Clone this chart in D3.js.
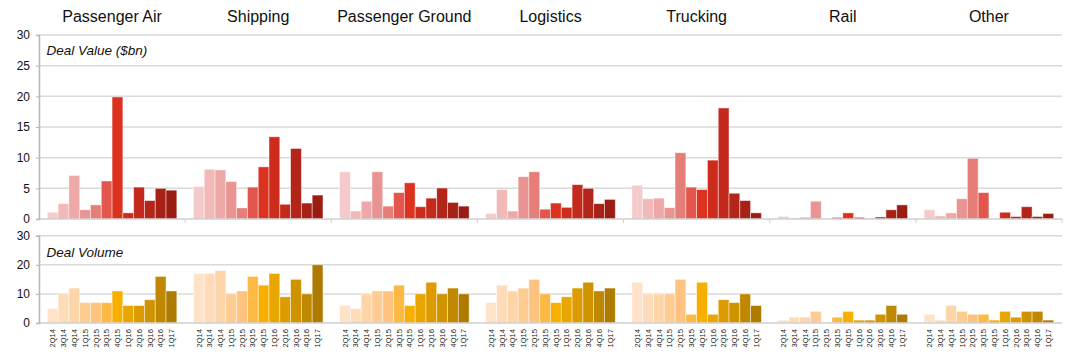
<!DOCTYPE html>
<html><head><meta charset="utf-8">
<script src="https://cdn.jsdelivr.net/npm/d3@7"></script>
<style>body{margin:0;background:#fff}svg{display:block;font-family:Arial,"Liberation Sans",Helvetica,sans-serif}</style>
</head><body><svg id="c" width="1078" height="359"></svg>
<script>
const sectors = ["Passenger Air","Shipping","Passenger Ground","Logistics","Trucking","Rail","Other"];
const quarters = ["2Q14","3Q14","4Q14","1Q15","2Q15","3Q15","4Q15","1Q16","2Q16","3Q16","4Q16","1Q17"];
const dealValue = [
  [1.1,2.5,7.1,1.5,2.3,6.2,19.9,1.0,5.2,3.0,5.0,4.7],
  [5.3,8.1,8.0,6.1,1.8,5.2,8.5,13.4,2.4,11.5,2.6,3.9],
  [7.7,1.3,2.9,7.7,2.1,4.3,5.9,2.0,3.4,5.05,2.7,2.1],
  [0.9,4.8,1.3,6.9,7.7,1.6,2.6,1.9,5.6,5.0,2.5,3.2],
  [5.5,3.3,3.4,1.85,10.8,5.2,4.8,9.6,18.1,4.2,3.0,1.0],
  [0.43,0.16,0.3,2.9,0,0.27,1.0,0.27,0.05,0.33,1.5,2.3],
  [1.5,0.5,1.0,3.3,9.9,4.3,0,1.1,0.4,2.0,0.4,0.9]
];
const dealVolume = [
  [5,10,12,7,7,7,11,6,6,8,16,11],
  [17,17,18,10,11,16,13,17,9,15,10,20],
  [6,5,10,11,11,13,6,10,14,10,12,10],
  [7,13,11,12,15,10,7,9,12,14,11,12],
  [14,10,10,10,15,3,14,3,8,7,10,6],
  [1,2,2,4,0,2,4,1,1,3,6,3],
  [3,1,6,4,3,3,1,4,2,4,4,1]
];
const valueTicks = [0,5,10,15,20,25,30];
const volumeTicks = [0,10,20,30];
const redShades = ["#f4cbca","#f1b9b8","#eda8a7","#e99492","#e57d78","#e2564e","#dc3220","#cd2b1c","#c4291b","#b32519","#a82117","#9a1c12"];
const orangeShades = ["#fee3c8","#fedcb9","#fed5a8","#fecb90","#fec47f","#fdb946","#f7b000","#e9a500","#dd9b00","#cf9300","#c08700","#ae7a00"];

const svg = d3.select("#c");
const left = 39, right = 1062;
const panelX = d3.scaleBand().domain(sectors).range([left, right]).padding(0);
const pw = panelX.bandwidth();

function drawRow(cfg) {
  const y = d3.scaleLinear().domain([0,30]).range([cfg.y0, cfg.y1]);
  const g = svg.append("g");
  // gridlines
  g.selectAll("line.grid").data(cfg.ticks.filter(t=>t>0)).join("line")
    .attr("x1", left).attr("x2", right)
    .attr("y1", d=>y(d)).attr("y2", d=>y(d))
    .attr("stroke", "#dadada").attr("stroke-width", 1.5);
  // bars
  sectors.forEach((s, si) => {
    const x = d3.scaleBand().domain(quarters)
      .range([panelX(s), panelX(s)+pw]).paddingInner(0).paddingOuter(0.77);
    g.append("g").selectAll("rect").data(cfg.data[si]).join("rect")
      .attr("x", (d,i)=>x(quarters[i]))
      .attr("width", x.bandwidth())
      .attr("y", d=>y(d))
      .attr("height", d=>y(0)-y(d))
      .attr("fill", (d,i)=>cfg.colors[i])
      .attr("stroke", "rgba(255,255,255,0.55)")
      .attr("stroke-width", 0.8);
    if (cfg.labels) {
      g.append("g").selectAll("text").data(quarters).join("text")
        .attr("transform", q=>`translate(${x(q)+x.bandwidth()/2},329) rotate(-90)`)
        .attr("text-anchor","end").attr("dy","0.35em")
        .attr("font-size", 7.6).attr("fill","#222").text(q=>q);
    }
  });
  // baseline
  g.append("line").attr("x1", left).attr("x2", right)
    .attr("y1", y(0)).attr("y2", y(0)).attr("stroke", "#cfcfcf").attr("stroke-width", 1.5);
  if (cfg.panelTicks) {
    g.selectAll("line.pt").data(sectors.slice(1).concat(["end"])).join("line")
      .attr("x1", d=> d==="end" ? right : panelX(d)).attr("x2", d=> d==="end" ? right : panelX(d))
      .attr("y1", y(0)).attr("y2", y(0)+4)
      .attr("stroke", "#cfcfcf").attr("stroke-width", 1);
  }
  // left axis
  const ax = g.append("g").attr("transform", `translate(${left},0)`)
    .call(d3.axisLeft(y).tickValues(cfg.ticks).tickSize(3).tickPadding(6));
  ax.select(".domain").attr("stroke", "#b5b5b5").attr("stroke-width", 1.5);
  ax.selectAll(".tick line").attr("stroke", "#b5b5b5");
  ax.selectAll(".tick text").attr("font-size", 12).attr("fill", "#111")
    .attr("font-family", "Arial, 'Liberation Sans', sans-serif");
  g.append("text").attr("x", 46.5).attr("y", cfg.labelY)
    .attr("font-size", 13.5).attr("font-style","italic").attr("fill","#111").text(cfg.title);
}

drawRow({y0:219, y1:35, ticks:valueTicks, data:dealValue, colors:redShades, title:"Deal Value ($bn)", labelY:55, panelTicks:true});
drawRow({y0:323, y1:235.7, ticks:volumeTicks, data:dealVolume, colors:orangeShades, title:"Deal Volume", labelY:256.5, labels:true});

svg.append("g").selectAll("text").data(sectors).join("text")
  .attr("x", s=>panelX(s)+pw/2).attr("y", 22)
  .attr("text-anchor","middle").attr("font-size",16).attr("fill","#111").text(s=>s);
</script></body></html>
